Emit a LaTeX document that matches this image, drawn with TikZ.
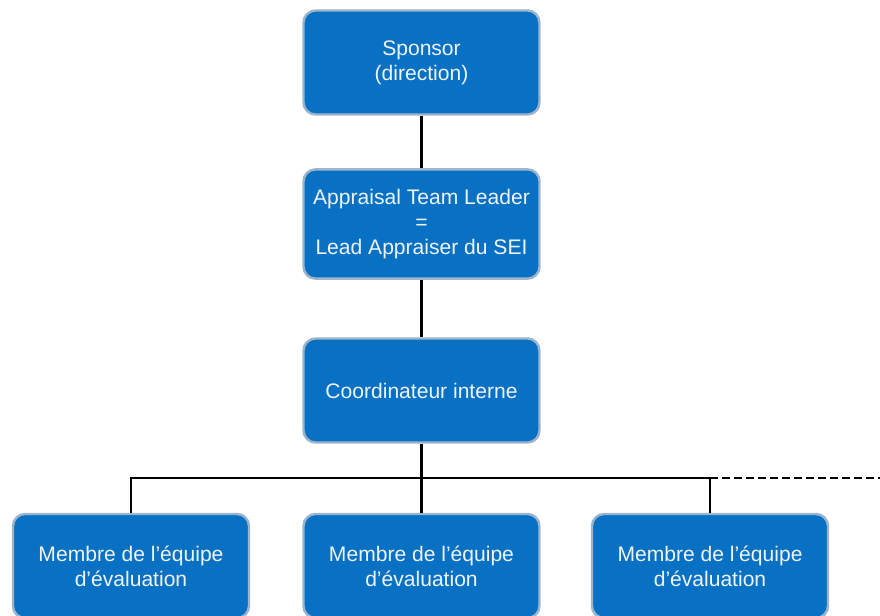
\documentclass[tikz,border=0pt]{standalone}
\usepackage{fontspec}
\setmainfont{Liberation Sans}
\usetikzlibrary{positioning}
\definecolor{boxblue}{HTML}{0971C4}
\definecolor{boxrim}{HTML}{9DB5CC}
\definecolor{boxtext}{HTML}{EEF4FA}
\tikzset{
  orgbox/.style={draw=boxrim, line width=1.8pt, fill=boxblue, rounded corners=9pt,
    minimum width=177pt, minimum height=78pt, align=center, text=boxtext,
    font=\fontsize{15.8}{18.8}\selectfont, inner sep=2pt},
  link/.style={black, line width=2.1pt}
}

\begin{document}
\begin{tikzpicture}[x=0.75pt,y=-0.75pt]
\useasboundingbox (0,0) rectangle (880,615);
\node[orgbox] (sponsor) at (421.5,62.5) {Sponsor\\(direction)};
\node[orgbox, minimum height=82pt] (leader) at (421.5,224) {Appraisal Team Leader\\=\\Lead Appraiser du SEI};
\node[orgbox] (coord) at (421.5,390.5) {Coordinateur interne};
\node[orgbox] (membre1) at (131,566) {Membre de l’équipe\\d’évaluation};
\node[orgbox] (membre2) at (421.5,566) {Membre de l’équipe\\d’évaluation};
\node[orgbox] (membre3) at (710,566) {Membre de l’équipe\\d’évaluation};
\coordinate (rail) at (421.5,478);
\coordinate (railend) at (880,478);
\draw[link] (sponsor) -- (leader);
\draw[link] (leader) -- (coord);
\draw[link] (coord) -- (membre2);
\draw[link] (membre1.north) |- (rail) -| (membre3.north);
\draw[link, dashed, dash pattern=on 6pt off 3pt] (rail -| membre3.north) -- (railend);
\end{tikzpicture}
\end{document}
